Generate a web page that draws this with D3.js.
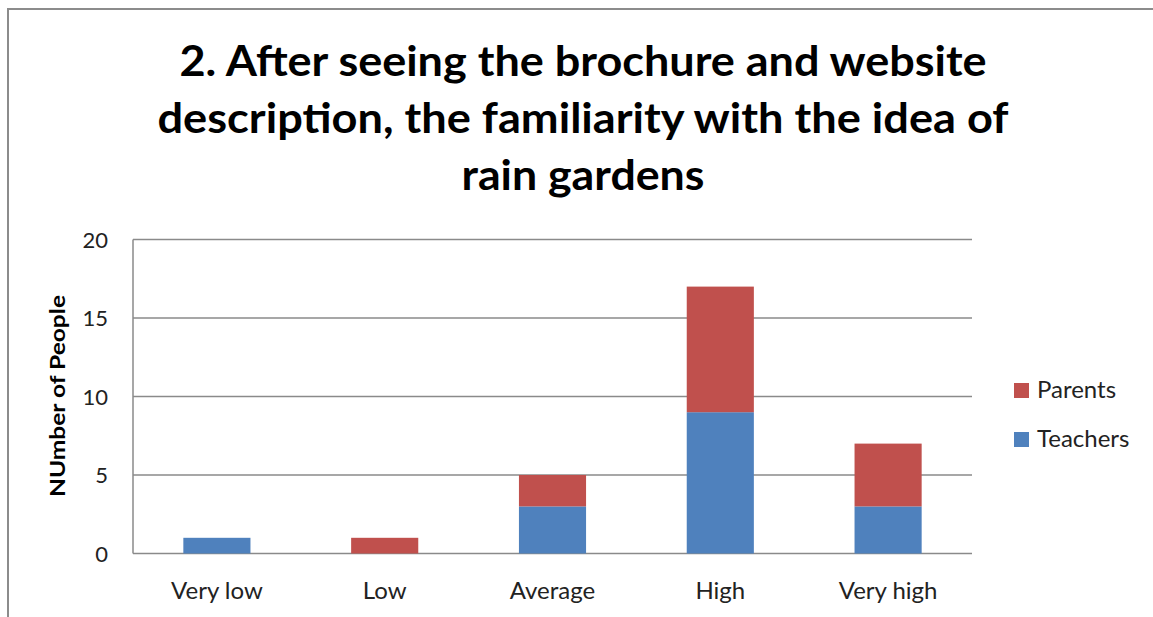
<!DOCTYPE html>
<html>
<head>
<meta charset="utf-8">
<script src="https://cdn.jsdelivr.net/npm/d3@7"></script>
<style>
  html, body { margin: 0; padding: 0; background: #fff; }
  svg { display: block; font-family: Lato, "Open Sans", sans-serif; }
</style>
</head>
<body>
<svg id="chart" width="1153" height="617"></svg>
<script>
// data
const categories = ["Very low", "Low", "Average", "High", "Very high"];
const teachers = [1, 0, 3, 9, 3];
const parents = [0, 1, 2, 8, 4];
const seriesNames = ["Teachers", "Parents"];
const yTicks = [0, 5, 10, 15, 20];
const titleLines = [
  "2. After seeing the brochure and website",
  "description, the familiarity with the idea of",
  "rain gardens"
];

const colors = { Teachers: "#4F81BD", Parents: "#C0504D" };

const svg = d3.select("#chart");
const W = 1153, H = 617;
const plot = { left: 133, right: 972, top: 239.5, bottom: 553.5 };

// outer frame of the chart object
svg.append("rect")
  .attr("x", 8).attr("y", 9)
  .attr("width", W + 20).attr("height", H + 20)
  .attr("fill", "none")
  .attr("stroke", "#8c8c8c")
  .attr("stroke-width", 2);

// title
const titleW = [807, 851, 243];
const titleY = [76, 133, 190];
titleLines.forEach((t, i) => {
  svg.append("text")
    .attr("x", 583).attr("y", titleY[i])
    .attr("text-anchor", "middle")
    .attr("textLength", titleW[i])
    .attr("lengthAdjust", "spacingAndGlyphs")
    .style("font-size", "42px")
    .style("font-weight", "700")
    .attr("fill", "#000")
    .text(t);
});

const x = d3.scaleBand()
  .domain(categories)
  .range([plot.left, plot.right])
  .paddingInner(0.6)
  .paddingOuter(0.3);

const y = d3.scaleLinear()
  .domain([0, 20])
  .range([plot.bottom, plot.top]);

// gridlines
svg.append("g")
  .selectAll("line")
  .data(yTicks)
  .enter().append("line")
  .attr("x1", plot.left).attr("x2", plot.right)
  .attr("y1", d => y(d)).attr("y2", d => y(d))
  .attr("stroke", "#8a8a8a")
  .attr("stroke-width", 1.5);

// y axis line
svg.append("line")
  .attr("x1", plot.left).attr("x2", plot.left)
  .attr("y1", plot.top).attr("y2", plot.bottom)
  .attr("stroke", "#8a8a8a")
  .attr("stroke-width", 1.5);

// y tick labels
svg.append("g")
  .selectAll("text")
  .data(yTicks)
  .enter().append("text")
  .attr("x", 108)
  .attr("y", d => y(d))
  .attr("dy", "0.38em")
  .attr("text-anchor", "end")
  .attr("fill", "#222")
  .style("font-size", "22px")
  .text(d => d);

// stacked bars
const rows = categories.map((c, i) => ({ cat: c, Teachers: teachers[i], Parents: parents[i] }));
const stack = d3.stack().keys(seriesNames)(rows);

svg.append("g")
  .selectAll("g")
  .data(stack)
  .enter().append("g")
  .attr("fill", d => colors[d.key])
  .selectAll("rect")
  .data(d => d.filter(p => p[1] - p[0] > 0))
  .enter().append("rect")
  .attr("x", d => x(d.data.cat))
  .attr("width", x.bandwidth())
  .attr("y", d => y(d[1]))
  .attr("height", d => y(d[0]) - y(d[1]));

// x labels
svg.append("g")
  .selectAll("text")
  .data(categories)
  .enter().append("text")
  .attr("x", d => x(d) + x.bandwidth() / 2)
  .attr("y", 599)
  .attr("text-anchor", "middle")
  .attr("fill", "#222")
  .style("font-size", "24px")
  .text(d => d);

// y axis title
svg.append("text")
  .attr("transform", "translate(65,396) rotate(-90)")
  .attr("text-anchor", "middle")
  .attr("textLength", 202)
  .attr("lengthAdjust", "spacingAndGlyphs")
  .style("font-size", "20px")
  .style("font-weight", "700")
  .attr("fill", "#000")
  .text("NUmber of People");

// legend (Parents on top)
const legendItems = ["Parents", "Teachers"];
const legend = svg.append("g")
  .selectAll("g")
  .data(legendItems)
  .enter().append("g")
  .attr("transform", (d, i) => `translate(1014,${383 + i * 49})`);

legend.append("rect")
  .attr("width", 15).attr("height", 15)
  .attr("fill", d => colors[d]);

legend.append("text")
  .attr("x", 23).attr("y", 15)
  .attr("fill", "#222")
  .style("font-size", "24px")
  .text(d => d);
</script>
</body>
</html>
